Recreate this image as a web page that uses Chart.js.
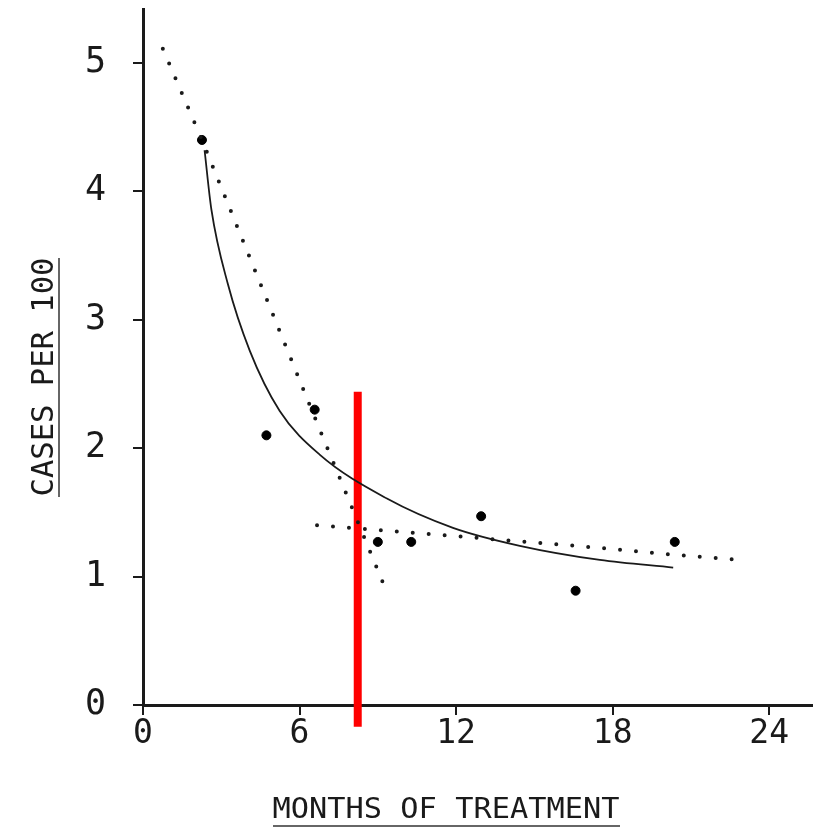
<!DOCTYPE html>
<html>
<head>
<meta charset="utf-8">
<script src="https://cdn.jsdelivr.net/npm/chart.js@4/dist/chart.umd.min.js"></script>
<style>
  html, body { margin: 0; padding: 0; background: #fff; }
  #wrap { width: 818px; height: 828px; }
</style>
</head>
<body>
<div id="wrap"><canvas id="chart"></canvas></div>
<script>
const xTitle = 'MONTHS OF TREATMENT';
const yTitle = 'CASES PER 100';
const xTicks = [0, 6, 12, 18, 24];
const yTicks = [0, 1, 2, 3, 4, 5];

// observed rates (dots)
const obsMonths = [2.26, 4.73, 6.58, 9.0, 10.28, 12.96, 16.58, 20.38];
const obsCases  = [4.40, 2.10, 2.30, 1.27, 1.27, 1.47, 0.89, 1.27];

// solid fitted curve
const fitMonths = [2.36, 2.62, 3.25, 4.09, 5.24, 6.77, 9.33, 11.88, 14.44, 17.51, 20.32];
const fitCases  = [4.32, 3.86, 3.28, 2.76, 2.29, 1.95, 1.61, 1.38, 1.24, 1.13, 1.07];

// steep dotted line (early phase)
const earlyMonths = [0.76, 2.26, 6.44, 9.24];
const earlyCases  = [5.11, 4.40, 2.31, 0.93];

// flat dotted line (late phase)
const lateMonths = [6.67, 9.77, 12.88, 16.59, 20.35, 22.88];
const lateCases  = [1.40, 1.35, 1.30, 1.24, 1.17, 1.13];

// red marker
const markerMonths = [8.23, 8.23];
const markerCases  = [2.44, -0.17];

const toPts = (xs, ys) => xs.map((x, i) => ({ x: x, y: ys[i] }));

const ink = '#1a1a1a';
const mono = '"DejaVu Sans Mono", "Liberation Mono", monospace';

function stretchedText(ctx, text, width) {
    const w = ctx.measureText(text).width;
    ctx.scale(width / w, 1);
    ctx.fillText(text, 0, 0);
}

const titlePlugin = {
    id: 'underlinedTitles',
    afterDraw(chart) {
        const ctx = chart.ctx;
        ctx.save();
        ctx.fillStyle = ink;
        ctx.textAlign = 'center';
        ctx.textBaseline = 'alphabetic';

        // x title
        ctx.save();
        ctx.font = '28px ' + mono;
        ctx.translate(446, 818);
        stretchedText(ctx, xTitle, 347);
        ctx.restore();
        ctx.strokeStyle = '#666';
        ctx.lineWidth = 2;
        ctx.beginPath();
        ctx.moveTo(273, 826);
        ctx.lineTo(620, 826);
        ctx.stroke();

        // y title
        ctx.save();
        ctx.font = '31px ' + mono;
        ctx.translate(53, 377);
        ctx.rotate(-Math.PI / 2);
        stretchedText(ctx, yTitle, 239);
        ctx.restore();
        ctx.beginPath();
        ctx.moveTo(59, 258);
        ctx.lineTo(59, 497);
        ctx.stroke();
        ctx.restore();
    }
};

new Chart(document.getElementById('chart'), {
    type: 'scatter',
    data: {
        datasets: [
            {
                label: 'early',
                data: toPts(earlyMonths, earlyCases),
                showLine: true,
                borderColor: ink,
                borderWidth: 4,
                borderDash: [0, 16],
                borderCapStyle: 'round',
                pointRadius: 0,
                tension: 0
            },
            {
                label: 'late',
                data: toPts(lateMonths, lateCases),
                showLine: true,
                borderColor: ink,
                borderWidth: 4,
                borderDash: [0, 16],
                borderCapStyle: 'round',
                pointRadius: 0,
                tension: 0
            },
            {
                label: 'fit',
                data: toPts(fitMonths, fitCases),
                showLine: true,
                borderColor: ink,
                borderWidth: 1.8,
                cubicInterpolationMode: 'monotone',
                pointRadius: 0
            },
            {
                label: 'observed',
                data: toPts(obsMonths, obsCases),
                backgroundColor: '#000',
                borderColor: '#000',
                pointRadius: 4.5
            },
            {
                label: 'marker',
                data: toPts(markerMonths, markerCases),
                showLine: true,
                borderColor: '#ff0000',
                borderWidth: 8,
                borderCapStyle: 'butt',
                pointRadius: 0,
                clip: false
            }
        ]
    },
    options: {
        responsive: true,
        maintainAspectRatio: false,
        animation: false,
        events: [],
        layout: { padding: { top: 9, right: 6, left: 0, bottom: 0 } },
        plugins: {
            legend: { display: false },
            tooltip: { enabled: false }
        },
        scales: {
            x: {
                type: 'linear',
                min: 0,
                max: 25.64,
                afterFit: s => { s.height = 123; s.paddingLeft = 0; s.paddingRight = 0; },
                afterBuildTicks: s => { s.ticks = xTicks.map(v => ({ value: v })); },
                border: { display: true, color: ink, width: 3 },
                grid: { drawOnChartArea: false, drawTicks: true, tickLength: 10, lineWidth: 2, color: ink },
                ticks: { color: ink, padding: 0, font: { family: mono, size: 33 } }
            },
            y: {
                type: 'linear',
                min: 0,
                max: 5.42,
                afterFit: s => { s.width = 143; s.paddingTop = 0; s.paddingBottom = 0; },
                afterBuildTicks: s => { s.ticks = yTicks.map(v => ({ value: v })); },
                border: { display: true, color: ink, width: 3 },
                grid: { drawOnChartArea: false, drawTicks: true, tickLength: 10, lineWidth: 2, color: ink },
                ticks: { color: ink, padding: 27, font: { family: mono, size: 35 } }
            }
        }
    },
    plugins: [titlePlugin]
});
</script>
</body>
</html>
